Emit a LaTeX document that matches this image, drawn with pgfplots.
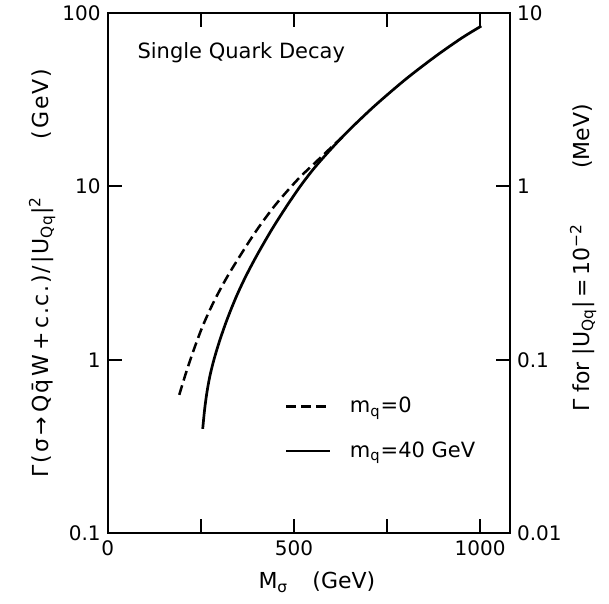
\documentclass[border=0pt]{standalone}
\usepackage{fontspec}
\setmainfont{DejaVu Sans}
\usepackage{pgfplots}
\pgfplotsset{compat=1.18}
\pgfplotstableread{
x y
255 0.400
260 0.515
266 0.643
274 0.802
285 1.00
300 1.28
320 1.70
345 2.31
370 3.01
400 3.99
440 5.62
480 7.67
520 10.23
560 13.18
610 17.38
640 20.28
660 22.39
720 29.58
800 41.50
880 56.23
950 71.61
1003 84.1
}\solid
\pgfplotstableread{
x y
192 0.628
210 0.840
230 1.127
255 1.567
285 2.168
320 2.992
360 4.130
400 5.598
450 7.816
510 10.96
560 13.90
610 17.58
640 20.18
}\dashedtab
\begin{document}
\begin{tikzpicture}
\path[use as bounding box] (-53.85pt,-35pt) rectangle (250.5pt,266.5pt);
\begin{axis}[
  at={(0pt,0pt)}, anchor=south west,
  scale only axis, width=201pt, height=260pt,
  xmin=0, xmax=1080, ymode=log, ymin=0.1, ymax=100,
  xtick={0,250,500,750,1000}, xticklabels={0,,500,,1000},
  ytick={0.1,1,10,100}, yticklabels={0.1,1,10,100},
  yminorticks=false, xminorticks=false,
  tick align=inside, xtick pos=both, ytick pos=left,
  major tick length=7pt,
  axis line style={line width=1pt},
  every tick/.style={line width=1pt, black},
  tick label style={font=\fontsize{10}{12}\selectfont},
  label style={font=\fontsize{11}{13}\selectfont},
  xlabel={M\textsubscript{σ}\hspace{1.1em}(GeV)},
  xlabel style={at={(axis description cs:0.52,-0.094)}, anchor=center},
  ylabel={\addfontfeatures{LetterSpace=8}Γ(σ\,→\,Q\=q\,W\,+\,c.c.)/|U\textsubscript{Qq}|\textsuperscript{2}\hspace{2.6em}(GeV)},
  ylabel style={at={(axis description cs:-0.163,0.5)}, anchor=center},
  legend style={at={(axis description cs:0.44,0.27)}, anchor=north west, draw=none, fill=none, font=\fontsize{10.5}{12}\selectfont, row sep=9pt, inner sep=0pt},
  legend cell align=left,
  legend image code/.code={\draw[#1] (0pt,0pt) -- (22pt,0pt);},
]
\addplot[black, line width=1.25pt, dash pattern=on 5pt off 2.5pt, smooth] table {\dashedtab};
\addlegendentry{\hspace{7pt}m\textsubscript{q}=0}
\addplot[black, line width=1.35pt, smooth] table {\solid};
\addlegendentry{\hspace{7pt}m\textsubscript{q}=40 GeV}
\node[anchor=west, inner sep=0pt, font=\fontsize{10.5}{12}\selectfont] at (axis description cs:0.073,0.923) {Single Quark Decay};
\end{axis}
\begin{axis}[
  at={(0pt,0pt)}, anchor=south west,
  scale only axis, width=201pt, height=260pt,
  xmin=0, xmax=1080, ymode=log, ymin=0.01, ymax=10,
  hide x axis, axis y line*=right,
  ytick={0.01,0.1,1,10}, yticklabels={0.01,0.1,1,10},
  yminorticks=false,
  tick align=inside,
  major tick length=7pt,
  axis line style={line width=1pt},
  every tick/.style={line width=1pt, black},
  tick label style={font=\fontsize{10}{12}\selectfont},
  label style={font=\fontsize{11}{13}\selectfont},
  ylabel={Γ for |U\textsubscript{Qq}|\,=\,10\textsuperscript{−2}\hspace{2.5em}(MeV)},
  ylabel style={at={(axis description cs:1.182,0.529)}, anchor=center},
]
\end{axis}
\end{tikzpicture}
\end{document}
